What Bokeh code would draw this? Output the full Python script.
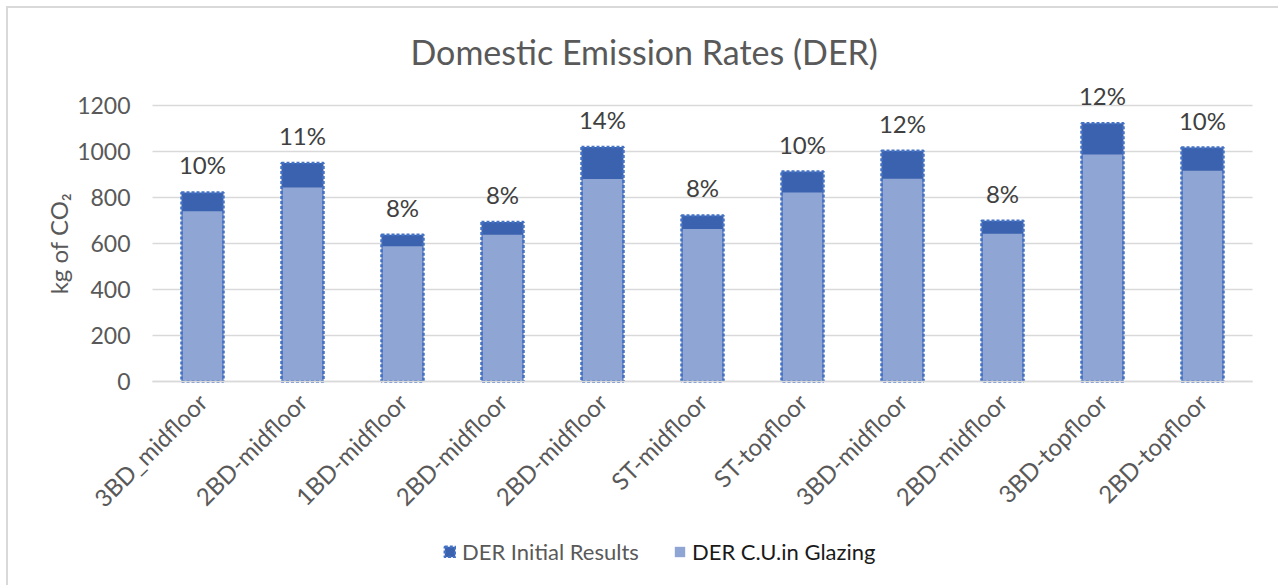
import math
from bokeh.plotting import figure
from bokeh.models import (ColumnDataSource, Range1d, FixedTicker, LabelSet, Label,
                          Legend, LegendItem)
from bokeh.embed import file_html
from bokeh.resources import INLINE
from bokeh.core.properties import value

categories = ["3BD_midfloor", "2BD-midfloor", "1BD-midfloor", "2BD-midfloor",
              "2BD-midfloor", "ST-midfloor", "ST-topfloor", "3BD-midfloor",
              "2BD-midfloor", "3BD-topfloor", "2BD-topfloor"]
der_initial = [822, 950, 638, 694, 1020, 722, 913, 1003, 699, 1123, 1017]
der_glazing = [740, 843, 588, 638, 880, 663, 822, 882, 642, 987, 916]
pct_labels = ["10%", "11%", "8%", "8%", "14%", "8%", "10%", "12%", "8%", "12%", "10%"]
y_ticks = [0, 200, 400, 600, 800, 1000, 1200]

FONT = "Lato"
DARK = "#3B62AE"
LIGHT = "#8FA5D4"
EDGE = "#4472C4"
GRID = "#d9d9d9"
TXT = "#595959"

n = len(categories)
xs = list(range(n))
src = ColumnDataSource(dict(x=xs, initial=der_initial, glazing=der_glazing, pct=pct_labels))

# the frame covers the whole canvas below the title; axes are pinned inside it
p = figure(width=1272, height=579,
           x_range=Range1d(-1.94, 10.78), y_range=Range1d(-895.65, 1300),
           output_backend="svg", toolbar_location=None,
           min_border_left=0, min_border_right=0, min_border_top=74,
           min_border_bottom=0)
p.styles = {"margin-left": "6px", "margin-top": "6px",
            "border-left": "2px solid #d9d9d9", "border-top": "2px solid #d9d9d9"}
p.outline_line_color = None
p.background_fill_color = "white"
p.border_fill_color = "white"

# title
p.title.text = "Domestic Emission Rates (DER)"
p.title.align = "left"
p.title.offset = 402
p.title.text_font = FONT
p.title.text_font_size = "34px"
p.title.text_font_style = "normal"
p.title.text_color = TXT
p.title.standoff = 21

# gridlines over the category span
p.xgrid.grid_line_color = None
p.ygrid.grid_line_color = None
p.segment(x0=[-0.5] * len(y_ticks), x1=[n - 0.5] * len(y_ticks), y0=y_ticks, y1=y_ticks,
          line_color=GRID, line_width=1.5)

# bars
dark = p.vbar(x="x", top="initial", width=0.42, fill_color=DARK, line_color=None, source=src)
light = p.vbar(x="x", top="glazing", width=0.40, fill_color=LIGHT, line_color=None, source=src)
edge = p.vbar(x="x", top="initial", width=0.42, fill_color=None, line_color=EDGE,
              line_width=2.5, line_dash="3 2", source=src)

# percent labels
labels = LabelSet(x="x", y="initial", text="pct", source=src, y_offset=13,
                  text_align="center", text_baseline="bottom",
                  text_font=value(FONT), text_font_size="24px", text_color="#404040")
p.add_layout(labels)

# y axis pinned at the left edge of the bars
p.yaxis.fixed_location = -0.5
p.yaxis.ticker = FixedTicker(ticks=y_ticks)
p.yaxis.axis_line_color = None
p.yaxis.major_tick_line_color = None
p.yaxis.minor_tick_line_color = None
p.yaxis.major_label_text_font = FONT
p.yaxis.major_label_text_font_size = "23px"
p.yaxis.major_label_text_color = TXT
p.yaxis.major_label_standoff = 16

ylab = Label(x=-1.44, y=600, text="kg of CO\u2082", angle=math.pi / 2,
             text_align="center", text_baseline="middle", text_font=FONT,
             text_font_size="24px", text_color=TXT)
p.add_layout(ylab)

# x axis pinned at zero
p.xaxis.fixed_location = 0
p.xaxis.bounds = (-0.5, n - 0.5)
p.xaxis.ticker = FixedTicker(ticks=xs)
p.xaxis.major_label_overrides = {i: c for i, c in enumerate(categories)}
p.xaxis.major_label_orientation = math.pi / 4
p.xaxis.axis_line_color = GRID
p.xaxis.axis_line_width = 1.5
p.xaxis.major_tick_line_color = None
p.xaxis.minor_tick_line_color = None
p.xaxis.major_label_text_font = FONT
p.xaxis.major_label_text_font_size = "24px"
p.xaxis.major_label_text_color = TXT
p.xaxis.major_label_standoff = 10

# legends (inside the frame, near the bottom)
leg1 = Legend(items=[LegendItem(label="DER Initial Results", renderers=[dark, edge])],
              location=(435, 22), orientation="horizontal")
leg2 = Legend(items=[LegendItem(label="DER C.U.in Glazing", renderers=[light])],
              location=(665, 22), orientation="horizontal")
for lg, col in ((leg1, TXT), (leg2, "#1a1a1a")):
    lg.label_text_font = FONT
    lg.label_text_font_size = "22px"
    lg.label_text_color = col
    lg.glyph_width = 13
    lg.glyph_height = 13
    lg.label_height = 20
    lg.label_standoff = 6
    lg.padding = 0
    lg.margin = 0
    lg.border_line_color = None
    lg.background_fill_alpha = 0
    p.add_layout(lg)

open("out.html", "w").write(file_html(p, INLINE))
